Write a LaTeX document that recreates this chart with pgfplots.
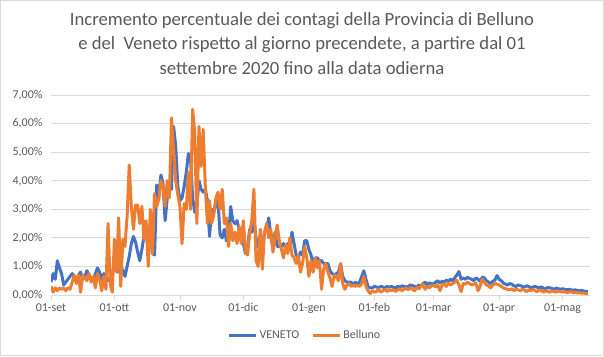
\documentclass[border=0pt]{standalone}
\usepackage{pgfplots}
\pgfplotsset{compat=1.18}
\usepackage{fontspec}
\setmainfont{Carlito}
\definecolor{veneto}{HTML}{4472C4}
\definecolor{belluno}{HTML}{ED7D31}
\definecolor{txt}{HTML}{595959}
\definecolor{gridc}{HTML}{D9D9D9}
\begin{document}
\begin{tikzpicture}[x=1bp,y=1bp]
\useasboundingbox (0,0) rectangle (604,356);
\draw[gridc, line width=0.75bp] (0.5,0.5) rectangle (603.5,355.5);
\node[anchor=north, align=center, text=txt, font=\fontsize{18.67bp}{24.5bp}\selectfont, inner sep=0pt] at (302,344)
 {Incremento percentuale dei contagi della Provincia di Belluno\\e del\ \ Veneto rispetto al giorno precendete, a partire dal 01\\settembre 2020 fino alla data odierna};
\begin{axis}[
 at={(51bp,61bp)}, anchor=south west, scale only axis,
 width=539bp, height=200bp,
 xmin=0, xmax=255, ymin=0, ymax=7,
 axis x line*=bottom, axis y line*=left,
 x axis line style={gridc, line width=0.75bp, -},
 y axis line style={draw=none},
 ytick={0,1,2,3,4,5,6,7},
 yticklabels={{0,00\%},{1,00\%},{2,00\%},{3,00\%},{4,00\%},{5,00\%},{6,00\%},{7,00\%}},
 ytick style={draw=none},
 yticklabel style={xshift=-5bp},
 ymajorgrids, grid style={gridc, line width=0.75bp},
 xtick={0,30,61,91,122,153,181,212,242},
 xticklabels={01-set,01-ott,01-nov,01-dic,01-gen,01-feb,01-mar,01-apr,01-mag},
 xtick align=outside, major tick length=5bp,
 xtick style={gridc, line width=0.75bp},
 tick label style={text=txt, font=\fontsize{12bp}{14bp}\selectfont},
 legend style={at={(0.471,-0.2)}, anchor=center, draw=none, fill=none,
   legend columns=2, font=\fontsize{12bp}{14bp}\selectfont, text=txt,
   /tikz/every even column/.append style={column sep=10bp}},
 legend image code/.code={\draw[#1] (0bp,0bp) -- (27bp,0bp);},
 every axis plot/.append style={line width=3bp, line join=round, mark=none},
]
\addplot[veneto] coordinates {
(0,0.45)(1,0.75)(2,0.55)(3,1.20)(4,0.95)(5,0.75)(6,0.35)(7,0.45)(8,0.55)(9,0.65)
(10,0.75)(11,0.60)(12,0.50)(13,0.70)(14,0.80)(15,0.55)(16,0.65)(17,0.85)(18,0.70)(19,0.60)
(20,0.50)(21,0.75)(22,0.95)(23,0.80)(24,0.55)(25,0.75)(26,0.55)(27,0.50)(28,0.60)(29,0.80)
(30,1.00)(31,0.85)(32,0.80)(33,1.05)(34,0.85)(35,0.65)(36,1.00)(37,1.35)(38,1.80)(39,2.05)
(40,1.85)(41,1.50)(42,1.20)(43,1.60)(44,2.05)(45,2.00)(46,1.80)(47,2.10)(48,1.45)(49,1.40)
(50,3.85)(51,3.45)(52,4.20)(53,3.90)(54,2.60)(55,3.40)(56,3.80)(57,3.70)(58,5.90)(59,5.20)
(60,3.80)(61,3.30)(62,3.40)(63,3.80)(64,4.30)(65,4.95)(66,4.80)(67,3.40)(68,2.90)(69,3.10)
(70,4.00)(71,3.70)(72,3.60)(73,3.70)(74,3.30)(75,2.05)(76,3.00)(77,2.90)(78,3.20)(79,3.30)
(80,2.10)(81,2.00)(82,2.30)(83,1.90)(84,2.00)(85,3.10)(86,2.60)(87,2.50)(88,2.60)(89,2.30)
(90,1.90)(91,1.80)(92,1.45)(93,1.70)(94,2.30)(95,2.20)(96,2.60)(97,2.00)(98,1.70)(99,2.10)
(100,1.60)(101,2.20)(102,2.30)(103,2.70)(104,2.10)(105,1.60)(106,2.20)(107,1.70)(108,1.70)(109,1.70)
(110,1.80)(111,1.65)(112,1.80)(113,1.60)(114,2.20)(115,1.80)(116,1.40)(117,1.30)(118,1.50)(119,1.40)
(120,1.90)(121,1.90)(122,1.60)(123,1.40)(124,1.10)(125,1.30)(126,1.30)(127,1.20)(128,1.20)(129,1.10)
(130,1.10)(131,1.10)(132,0.85)(133,0.75)(134,0.70)(135,0.75)(136,0.80)(137,1.10)(138,0.65)(139,0.50)
(140,0.45)(141,0.45)(142,0.45)(143,0.35)(144,0.45)(145,0.40)(146,0.45)(147,0.65)(148,0.85)(149,0.55)
(150,0.30)(151,0.25)(152,0.25)(153,0.30)(154,0.28)(155,0.25)(156,0.30)(157,0.28)(158,0.25)(159,0.30)
(160,0.27)(161,0.30)(162,0.27)(163,0.25)(164,0.30)(165,0.28)(166,0.32)(167,0.30)(168,0.28)(169,0.30)
(170,0.35)(171,0.33)(172,0.30)(173,0.28)(174,0.35)(175,0.30)(176,0.40)(177,0.45)(178,0.35)(179,0.42)
(180,0.40)(181,0.38)(182,0.45)(183,0.50)(184,0.42)(185,0.48)(186,0.45)(187,0.52)(188,0.48)(189,0.55)
(190,0.50)(191,0.60)(192,0.70)(193,0.82)(194,0.55)(195,0.60)(196,0.55)(197,0.62)(198,0.58)(199,0.55)
(200,0.50)(201,0.60)(202,0.55)(203,0.48)(204,0.62)(205,0.60)(206,0.50)(207,0.45)(208,0.40)(209,0.48)
(210,0.52)(211,0.68)(212,0.55)(213,0.50)(214,0.42)(215,0.38)(216,0.35)(217,0.40)(218,0.38)(219,0.32)
(220,0.30)(221,0.35)(222,0.33)(223,0.30)(224,0.28)(225,0.32)(226,0.30)(227,0.25)(228,0.28)(229,0.30)
(230,0.27)(231,0.25)(232,0.28)(233,0.24)(234,0.22)(235,0.26)(236,0.25)(237,0.23)(238,0.20)(239,0.24)
(240,0.22)(241,0.20)(242,0.22)(243,0.20)(244,0.18)(245,0.20)(246,0.18)(247,0.17)(248,0.18)(249,0.16)
(250,0.15)(251,0.16)(252,0.14)(253,0.13)(254,0.12)
};
\addlegendentry{VENETO}
\addplot[belluno] coordinates {
(0,0.30)(1,0.10)(2,0.25)(3,0.15)(4,0.25)(5,0.20)(6,0.25)(7,0.15)(8,0.25)(9,0.20)
(10,0.45)(11,0.70)(12,0.40)(13,0.70)(14,0.10)(15,0.70)(16,0.60)(17,0.50)(18,0.75)(19,0.45)
(20,0.65)(21,0.25)(22,0.75)(23,0.55)(24,0.15)(25,0.65)(26,0.20)(27,2.50)(28,0.40)(29,0.10)
(30,1.95)(31,0.80)(32,2.70)(33,0.30)(34,1.95)(35,1.70)(36,2.75)(37,4.55)(38,3.10)(39,2.30)
(40,3.15)(41,3.15)(42,2.50)(43,3.10)(44,1.95)(45,2.60)(46,1.00)(47,3.00)(48,1.45)(49,3.55)
(50,3.10)(51,3.35)(52,4.00)(53,3.80)(54,3.10)(55,4.00)(56,3.40)(57,6.20)(58,5.10)(59,4.00)
(60,3.50)(61,3.10)(62,1.80)(63,3.20)(64,3.00)(65,4.30)(66,3.00)(67,6.50)(68,5.70)(69,2.50)
(70,5.90)(71,4.50)(72,5.80)(73,3.80)(74,2.50)(75,3.30)(76,2.50)(77,2.80)(78,3.40)(79,3.60)
(80,3.00)(81,3.70)(82,2.50)(83,2.70)(84,1.70)(85,2.50)(86,1.90)(87,2.20)(88,1.80)(89,2.40)
(90,1.80)(91,2.60)(92,1.50)(93,1.40)(94,2.20)(95,2.60)(96,3.70)(97,1.20)(98,1.00)(99,2.30)
(100,0.90)(101,2.20)(102,2.50)(103,2.00)(104,2.30)(105,1.50)(106,2.00)(107,2.45)(108,1.90)(109,1.60)
(110,1.30)(111,1.75)(112,1.45)(113,2.00)(114,1.40)(115,1.30)(116,1.10)(117,1.40)(118,0.80)(119,1.10)
(120,1.70)(121,1.30)(122,0.65)(123,1.20)(124,0.80)(125,1.30)(126,0.95)(127,1.20)(128,0.20)(129,0.90)
(130,1.10)(131,0.80)(132,0.60)(133,0.30)(134,0.70)(135,0.65)(136,0.50)(137,1.10)(138,0.40)(139,0.20)
(140,0.35)(141,0.40)(142,0.30)(143,0.35)(144,0.30)(145,0.35)(146,0.30)(147,0.40)(148,0.65)(149,0.30)
(150,0.15)(151,0.05)(152,0.15)(153,0.10)(154,0.12)(155,0.20)(156,0.10)(157,0.15)(158,0.20)(159,0.12)
(160,0.18)(161,0.15)(162,0.20)(163,0.12)(164,0.18)(165,0.22)(166,0.15)(167,0.20)(168,0.25)(169,0.18)
(170,0.25)(171,0.20)(172,0.15)(173,0.28)(174,0.22)(175,0.30)(176,0.38)(177,0.20)(178,0.30)(179,0.25)
(180,0.32)(181,0.35)(182,0.28)(183,0.35)(184,0.15)(185,0.35)(186,0.38)(187,0.30)(188,0.42)(189,0.35)
(190,0.40)(191,0.45)(192,0.52)(193,0.35)(194,0.12)(195,0.40)(196,0.38)(197,0.45)(198,0.40)(199,0.35)
(200,0.38)(201,0.42)(202,0.15)(203,0.30)(204,0.55)(205,0.45)(206,0.35)(207,0.32)(208,0.25)(209,0.35)
(210,0.40)(211,0.38)(212,0.35)(213,0.30)(214,0.25)(215,0.22)(216,0.20)(217,0.18)(218,0.22)(219,0.15)
(220,0.20)(221,0.18)(222,0.15)(223,0.20)(224,0.17)(225,0.12)(226,0.18)(227,0.15)(228,0.20)(229,0.15)
(230,0.12)(231,0.18)(232,0.15)(233,0.10)(234,0.15)(235,0.12)(236,0.10)(237,0.15)(238,0.12)(239,0.10)
(240,0.14)(241,0.12)(242,0.10)(243,0.12)(244,0.08)(245,0.10)(246,0.12)(247,0.08)(248,0.10)(249,0.07)
(250,0.08)(251,0.06)(252,0.07)(253,0.05)(254,0.05)
};
\addlegendentry{Belluno}
\end{axis}
\end{tikzpicture}
\end{document}
